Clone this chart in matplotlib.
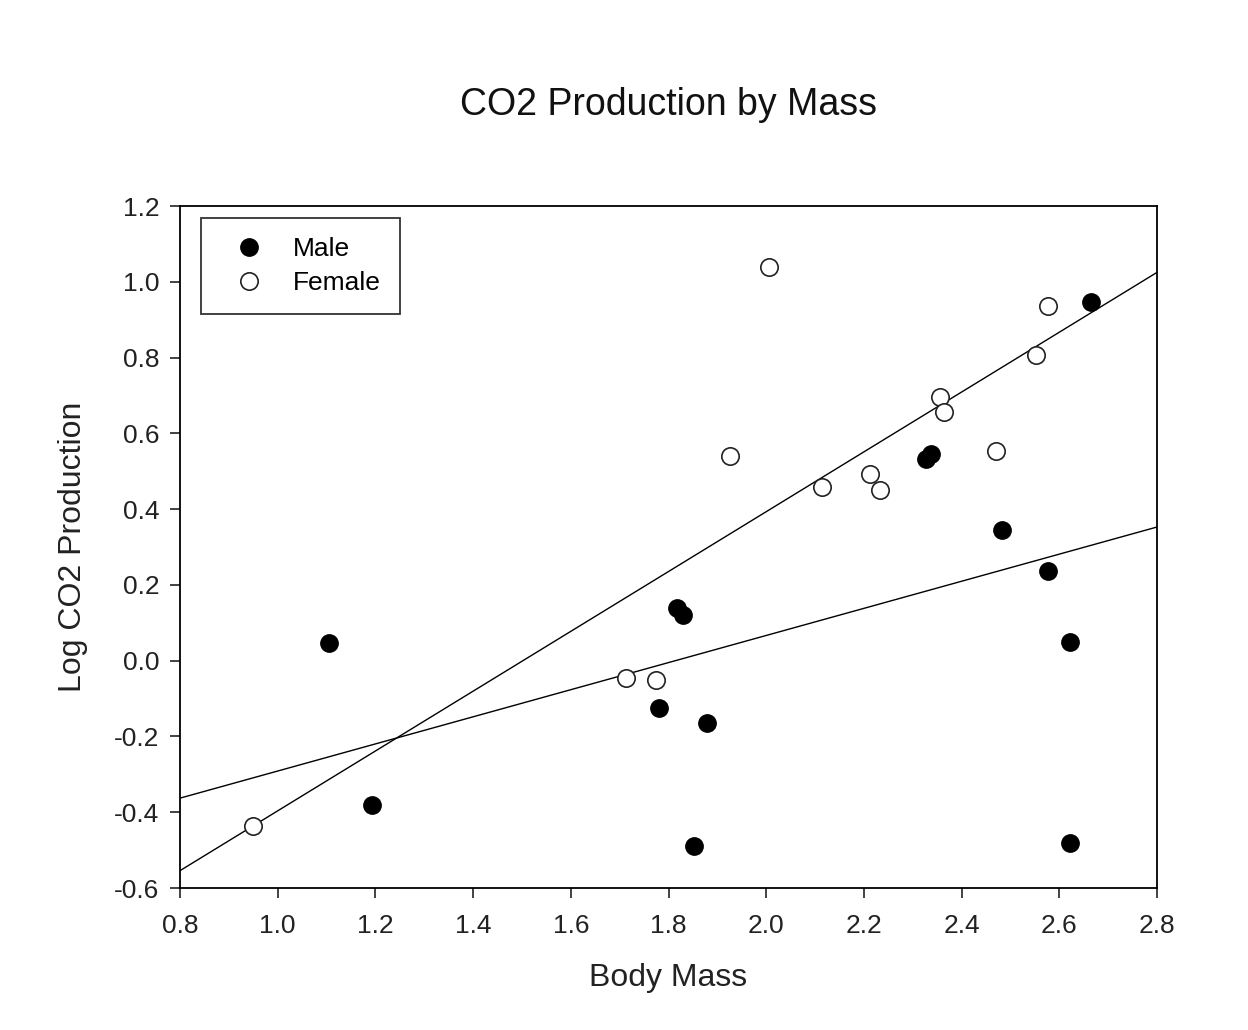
import numpy as np
import matplotlib
matplotlib.use("Agg")
import matplotlib.pyplot as plt

plt.rcParams['font.family'] = ['Liberation Sans', 'DejaVu Sans']

# values
male_mass = [1.105, 1.193, 1.817, 1.830, 1.781, 1.879, 1.852, 2.327, 2.337,
             2.483, 2.577, 2.622, 2.622, 2.665]
male_co2 = [0.047, -0.381, 0.139, 0.121, -0.125, -0.165, -0.489, 0.532, 0.545,
            0.345, 0.237, 0.049, -0.481, 0.947]
female_mass = [0.949, 1.713, 1.774, 1.926, 2.006, 2.114, 2.212, 2.233, 2.356,
               2.364, 2.470, 2.552, 2.577]
female_co2 = [-0.436, -0.046, -0.051, 0.540, 1.039, 0.458, 0.493, 0.450, 0.696,
              0.656, 0.553, 0.807, 0.936]

xticks = [0.8, 1.0, 1.2, 1.4, 1.6, 1.8, 2.0, 2.2, 2.4, 2.6, 2.8]
yticks = [-0.6, -0.4, -0.2, 0.0, 0.2, 0.4, 0.6, 0.8, 1.0, 1.2]

fig = plt.figure(figsize=(12.48, 10.30), dpi=100)
ax = fig.add_axes([180 / 1248, 1 - 888 / 1030, 977 / 1248, 682 / 1030])

# regression lines over the full x range
xx = np.array([0.8, 2.8])
for xs, ys in [(male_mass, male_co2), (female_mass, female_co2)]:
    slope, icpt = np.polyfit(xs, ys, 1)
    ax.plot(xx, slope * xx + icpt, color='black', lw=1.0, zorder=2)

ax.plot(male_mass, male_co2, 'o', ms=12.5, mfc='black', mec='black',
        label='Male', zorder=3)
ax.plot(female_mass, female_co2, 'o', ms=12.5, mfc='white', mec='#222222',
        mew=1.2, label='Female', zorder=3)

ax.set_xlim(0.8, 2.8)
ax.set_ylim(-0.6, 1.2)
ax.set_xticks(xticks)
ax.set_yticks(yticks)
ax.set_xticklabels([f'{v:.1f}' for v in xticks])
ax.set_yticklabels([f'{v:.1f}' for v in yticks])
ax.tick_params(direction='out', length=7, width=1.2, labelsize=19,
               colors='#222222')
ax.tick_params(axis='x', pad=12)
ax.tick_params(axis='y', pad=8)
for s in ax.spines.values():
    s.set_linewidth(1.3)

ax.set_xlabel('Body Mass', fontsize=23, color='#222222')
ax.set_ylabel('Log CO2 Production', fontsize=23, color='#222222')
ax.xaxis.set_label_coords(0.5, -(963 - 888) / 682)
ax.yaxis.set_label_coords(-(180 - 88) / 977, 0.5)

ax.text(0.5, 1 + (206 - 105) / 682, 'CO2 Production by Mass', fontsize=27,
        ha='center', va='center', transform=ax.transAxes, color='#111111')

leg = ax.legend(loc='upper left', bbox_to_anchor=(0.0215, 0.982),
                borderaxespad=0, fontsize=19, frameon=True, fancybox=False,
                handletextpad=0.6, borderpad=0.7, labelspacing=0.4,
                handlelength=2.2, markerscale=1.0)
leg.get_frame().set_edgecolor('black')
leg.get_frame().set_linewidth(1.3)

fig.savefig('out.png', dpi=100)
